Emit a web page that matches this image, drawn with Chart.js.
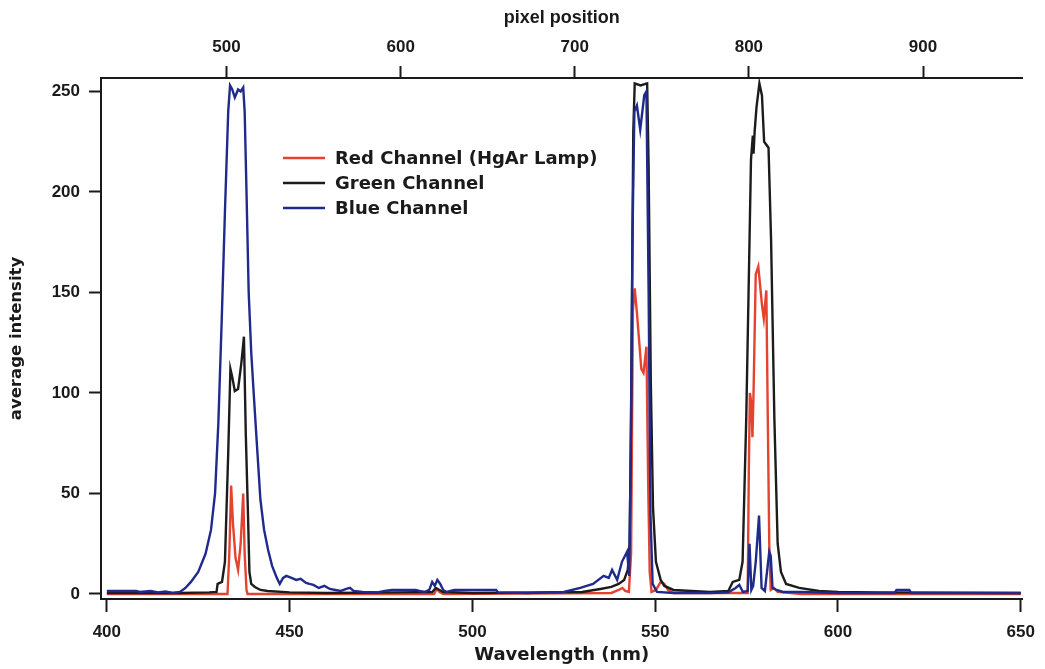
<!DOCTYPE html>
<html>
<head>
<meta charset="utf-8">
<script src="https://cdn.jsdelivr.net/npm/chart.js@4"></script>
<style>
  html, body { margin: 0; padding: 0; background: #fff; }
  #wrap { width: 1045px; height: 669px; }
</style>
</head>
<body>
<div id="wrap"><canvas id="chart" width="1045" height="669"></canvas></div>
<script>
// wavelength (nm) / average intensity pairs for each camera channel
let redNm = [400, 433, 433.5, 434.0, 434.5, 435.2, 435.9, 436.6, 437.3, 437.7, 438.2, 438.5, 489.5, 490.3, 491, 492,
  538, 540, 541, 541.8, 542.8, 543.4, 543.9, 544.4, 545.0, 546.2, 546.8, 547.6, 548.1, 548.5, 549.0, 550.2, 551.5, 552.5, 553.5, 555,
  575.3, 575.6, 575.9, 576.3, 576.6, 576.9, 577.5, 578.2, 579.2, 579.7, 580.4, 580.8, 581.2, 581.6, 582.5, 583.5, 590, 650];
let redVal = [0, 0, 20, 54, 35, 18, 12, 25, 50, 20, 2, 0, 0, 2.5, 1, 0,
  0.5, 2, 3, 1.5, 1, 20, 141, 152, 140, 112, 110, 123, 52, 11, 1, 2, 6, 5, 2, 0.5,
  0.5, 60, 100, 95, 78, 100, 159, 163, 144, 137, 151, 87, 25, 2, 3, 1, 0, 0];

let greenNm = [400, 420, 428, 430.0, 430.3, 431.5, 432.3, 433.2, 433.8, 434.3, 435.0, 435.9, 436.8, 437.5, 438.0, 438.6, 439.0, 439.5,
  440.5, 442, 444, 450, 460, 480, 489, 490, 491, 492, 500, 520, 530, 535, 538, 540, 541.5, 542.5, 543.0, 543.3, 543.7, 544.0, 544.4,
  546, 547.8, 548.2, 548.8, 549.4, 550.2, 551.5, 552.5, 555, 560, 565, 570, 571.2, 573.0, 573.9, 574.9, 575.8, 576.2, 576.7, 576.9,
  577.2, 577.7, 578.5, 579.2, 579.8, 581.0, 581.7, 582.6, 583.5, 584.4, 585.8, 589.4, 594.8, 600, 610, 650];
let greenVal = [0.5, 0.5, 0.8, 1, 5, 6, 16, 70, 112, 108, 101, 102, 115, 128, 80, 40, 11, 5,
  3.5, 2, 1.5, 0.8, 0.5, 0.8, 1, 3, 2, 1, 0.5, 0.8, 1, 2.5, 3.5, 5, 7, 12, 25, 70, 159, 230, 254,
  253, 254, 212, 105, 43, 16, 7, 4, 2, 1.5, 1, 1.5, 6, 7, 16, 87, 176, 216, 228, 219,
  230, 242, 254, 248, 225, 222, 176, 87, 25, 11, 5, 3, 1.5, 1, 0.8, 0.5];

let blueNm = [400, 408, 409, 412, 414, 416, 418, 420, 421.5, 423, 425, 427, 428.5, 429.6, 430.5, 431.4, 432.3, 433.2, 433.7, 434.3,
  435.0, 435.9, 436.6, 437.3, 437.7, 438.2, 438.8, 439.5, 440.3, 441.2, 442.0, 443.0, 444.1, 445.2, 446.5, 447.3, 448.2, 449.1,
  450.5, 451.8, 453, 454.5, 455.4, 456.5, 458, 459.5, 461, 462.5, 464, 465.5, 466.5, 467.5, 470, 474, 476, 478, 484.5, 485.5, 487,
  488.2, 489, 489.7, 490.4, 491.2, 492, 493, 495, 506.5, 507, 515, 520, 525, 529.5, 533, 535.9, 537.3, 538.2, 539.6, 540.9, 542.3,
  542.9, 543.4, 543.8, 544.3, 545.0, 545.9, 547.0, 547.6, 548.2, 548.7, 549.3, 550.5, 555, 565, 570, 572, 573, 574, 575.3, 575.8,
  576.3, 576.8, 577.5, 578.4, 579.1, 580.0, 581.2, 581.6, 582.1, 583.2, 585, 590, 600, 615.5, 616, 619.5, 620, 650];
let blueVal = [1.5, 1.5, 1, 1.5, 0.8, 1.2, 0.5, 1, 3, 6, 11, 20, 32, 50, 85, 135, 190, 240, 253, 251,
  247, 251, 250, 252, 240, 200, 150, 120, 96, 70, 47, 32, 22, 14, 8, 5, 8, 9,
  8, 7, 7.5, 5.5, 5, 4.5, 3, 4, 2.5, 2, 1.5, 2.5, 3, 1.5, 1, 0.8, 1.5, 2, 2, 1.5, 1,
  2, 6, 4, 7, 5, 2, 1, 2, 2, 0.8, 0.5, 0.8, 1, 3, 5, 9, 8, 12, 7, 16, 21,
  9, 87, 180, 240, 243, 231, 248, 250, 150, 40, 5, 1, 0.5, 0.5, 0.8, 3, 4.5, 1, 1.5, 25,
  2, 4, 16, 39, 3, 1.5, 21, 19, 3, 2, 1, 1, 0.5, 0.5, 2, 2, 0.5, 0.5];

let wavelengthTicks = [400, 450, 500, 550, 600, 650];
let pixelTicks = [500, 600, 700, 800, 900];
let intensityTicks = [0, 50, 100, 150, 200, 250];

const ink = '#1a1a1a';
const tickFont = { family: "'Liberation Sans', Arial, sans-serif", size: 17, weight: 'bold' };
const titleFont = { family: "'DejaVu Sans', 'Liberation Sans', sans-serif", size: 18, weight: 'bold' };

function pairs(xs, ys) {
  return xs.map((x, i) => ({ x: x, y: ys[i] }));
}

function fixedTicks(values) {
  return scale => { scale.ticks = values.map(v => ({ value: v })); };
}

// legend drawn inside the plot, in the order red, green, blue
const insideLegend = {
  id: 'insideLegend',
  afterDatasetsDraw(chart) {
    const ctx = chart.ctx;
    const items = chart.data.datasets.slice().reverse();
    ctx.save();
    ctx.font = "bold 18px 'DejaVu Sans', 'Liberation Sans', sans-serif";
    ctx.textBaseline = 'middle';
    items.forEach((ds, i) => {
      const y = 158 + i * 25;
      ctx.strokeStyle = ds.borderColor;
      ctx.lineWidth = 2.4;
      ctx.beginPath();
      ctx.moveTo(283, y);
      ctx.lineTo(325, y);
      ctx.stroke();
      ctx.fillStyle = ink;
      ctx.fillText(ds.label, 335, y + 1);
    });
    ctx.restore();
  }
};

new Chart("chart", {
  type: "line",
  data: {
    // blue first so it is painted on top
    datasets: [{
      label: "Blue Channel",
      data: pairs(blueNm, blueVal),
      borderColor: "#1f2a8c",
      borderWidth: 2.4,
      pointRadius: 0,
      tension: 0,
      fill: false
    }, {
      label: "Green Channel",
      data: pairs(greenNm, greenVal),
      borderColor: "#1c1c1c",
      borderWidth: 2.4,
      pointRadius: 0,
      tension: 0,
      fill: false
    }, {
      label: "Red Channel (HgAr Lamp)",
      data: pairs(redNm, redVal),
      borderColor: "#e4432f",
      borderWidth: 2.4,
      pointRadius: 0,
      tension: 0,
      fill: false
    }]
  },
  options: {
    responsive: false,
    animation: false,
    layout: { padding: { left: 0, right: 19, top: 0, bottom: 0 } },
    plugins: {
      legend: { display: false },
      tooltip: { enabled: false }
    },
    scales: {
      x: {
        type: 'linear',
        position: 'bottom',
        min: 398.4,
        max: 650.5,
        afterBuildTicks: fixedTicks(wavelengthTicks),
        afterFit: s => { s.height = 70; },
        grid: { drawOnChartArea: false, tickLength: 13, tickWidth: 2, tickColor: ink },
        border: { display: true, width: 2, color: ink },
        ticks: { padding: 10, color: ink, font: tickFont, maxRotation: 0, autoSkip: false },
        title: { display: true, text: 'Wavelength (nm)', color: ink, font: titleFont, padding: { top: 0, bottom: 3 } }
      },
      pixel: {
        type: 'linear',
        position: 'top',
        axis: 'x',
        min: 427.9,
        max: 957.2,
        afterBuildTicks: fixedTicks(pixelTicks),
        afterFit: s => { s.height = 78; },
        grid: { drawOnChartArea: false, tickLength: 12, tickWidth: 2, tickColor: ink },
        border: { display: true, width: 2, color: ink },
        ticks: { padding: 8, color: ink, font: tickFont, maxRotation: 0, autoSkip: false },
        title: { display: true, text: 'pixel position', color: ink, font: { family: "'Liberation Sans', Arial, sans-serif", size: 18, weight: 'bold' }, padding: { top: 7, bottom: 0 } }
      },
      y: {
        type: 'linear',
        position: 'left',
        min: -2.5,
        max: 256.7,
        afterBuildTicks: fixedTicks(intensityTicks),
        afterFit: s => { s.width = 101; },
        grid: { drawOnChartArea: false, tickLength: 12, tickWidth: 2, tickColor: ink },
        border: { display: true, width: 2, color: ink },
        ticks: { padding: 9, color: ink, font: tickFont, autoSkip: false },
        title: { display: true, text: 'average intensity', color: ink, font: { family: "'DejaVu Sans', 'Liberation Sans', sans-serif", size: 16.5, weight: 'bold' }, padding: { top: 7, bottom: 0 } }
      }
    }
  },
  plugins: [insideLegend]
});
</script>
</body>
</html>
